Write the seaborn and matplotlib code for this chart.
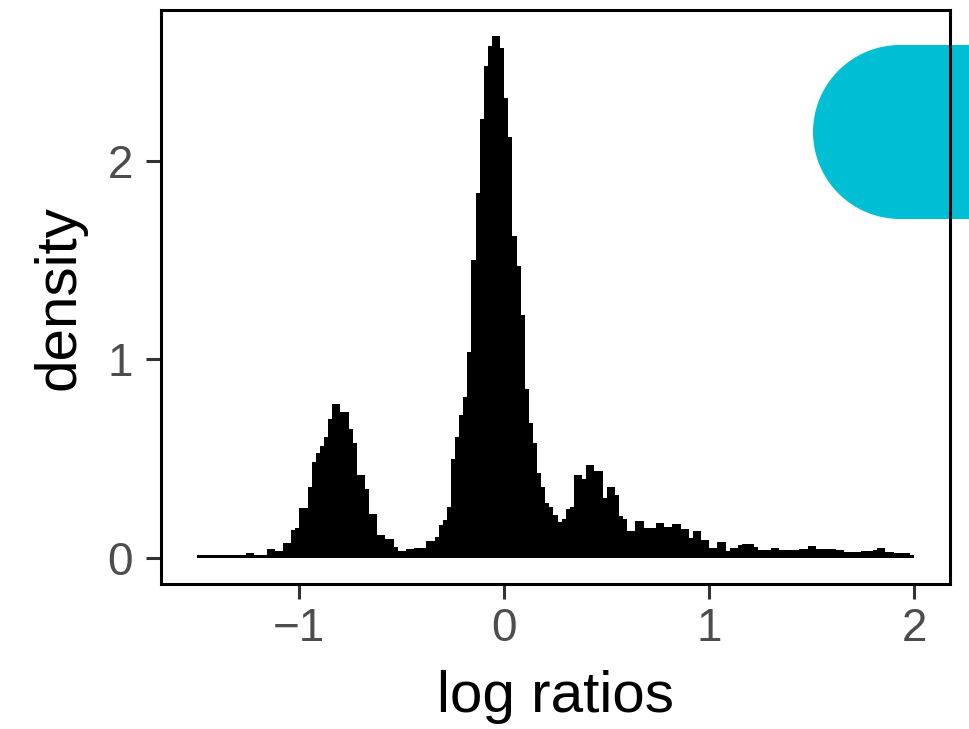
import numpy as np
import pandas as pd
import matplotlib
matplotlib.use("Agg")
import matplotlib.pyplot as plt
from matplotlib.patches import Wedge, Rectangle
import seaborn as sns

# Histogram of log ratios: bins of width 0.02 starting at -1.5
bin_start = -1.5
bin_width = 0.02
density = [
    0.013, 0.013, 0.013, 0.013, 0.013, 0.013, 0.013, 0.013, 0.013, 0.013,
    0.013, 0.013, 0.024, 0.024, 0.013, 0.013, 0.013, 0.045, 0.045, 0.034,
    0.034, 0.074, 0.074, 0.142, 0.152, 0.250, 0.250, 0.355, 0.482, 0.531,
    0.564, 0.610, 0.700, 0.774, 0.774, 0.734, 0.734, 0.648, 0.580, 0.420,
    0.420, 0.347, 0.221, 0.221, 0.117, 0.117, 0.095, 0.095, 0.055, 0.037,
    0.037, 0.046, 0.046, 0.050, 0.050, 0.052, 0.084, 0.084, 0.104, 0.166,
    0.193, 0.255, 0.497, 0.610, 0.720, 0.810, 1.040, 1.500, 1.840, 2.210,
    2.480, 2.580, 2.630, 2.630, 2.570, 2.320, 2.120, 1.620, 1.470, 1.225,
    0.850, 0.680, 0.580, 0.430, 0.355, 0.275, 0.255, 0.216, 0.180, 0.196,
    0.246, 0.255, 0.420, 0.420, 0.400, 0.467, 0.467, 0.440, 0.440, 0.300,
    0.355, 0.355, 0.315, 0.210, 0.196, 0.134, 0.134, 0.186, 0.186, 0.150,
    0.150, 0.150, 0.176, 0.176, 0.158, 0.158, 0.170, 0.170, 0.146, 0.146,
    0.100, 0.137, 0.137, 0.090, 0.090, 0.050, 0.050, 0.080, 0.080, 0.034,
    0.052, 0.052, 0.064, 0.070, 0.070, 0.070, 0.054, 0.040, 0.040, 0.040,
    0.050, 0.050, 0.042, 0.042, 0.042, 0.042, 0.042, 0.046, 0.046, 0.060,
    0.060, 0.044, 0.044, 0.044, 0.044, 0.044, 0.038, 0.038, 0.030, 0.030,
    0.030, 0.030, 0.034, 0.034, 0.034, 0.042, 0.050, 0.050, 0.032, 0.032,
    0.026, 0.026, 0.026, 0.026, 0.014,
]

x_ticks = [-1, 0, 1, 2]
x_tick_labels = ["\u22121", "0", "1", "2"]
y_ticks = [0, 1, 2]
y_tick_labels = ["0", "1", "2"]
x_title = "log ratios"
y_title = "density"

density = np.asarray(density, dtype=float)
edges = bin_start + bin_width * np.arange(len(density) + 1)
centers = (edges[:-1] + edges[1:]) / 2
hist_df = pd.DataFrame({"log_ratio": centers, "density": density})

sns.set_theme(style="white")
plt.rcParams["font.family"] = ["Liberation Sans", "DejaVu Sans"]

fig = plt.figure(figsize=(9.69, 7.29), dpi=100)
fig.patch.set_facecolor("white")
ax = fig.add_axes([161 / 969, 1 - 584 / 729, (950 - 161) / 969, (584 - 10) / 729])
ax.set_facecolor("none")

sns.histplot(data=hist_df, x="log_ratio", weights="density",
             bins=edges.tolist(), stat="count", element="step", fill=True,
             color="black", alpha=1, linewidth=0, ax=ax)

# ggplot-style 5% expansion of the data range
xr = edges[-1] - edges[0]
ax.set_xlim(edges[0] - 0.05 * xr, edges[-1] + 0.05 * xr)
ymax = density.max()
ax.set_ylim(-0.05 * ymax, 1.05 * ymax)

ax.set_xticks(x_ticks)
ax.set_xticklabels(x_tick_labels)
ax.set_yticks(y_ticks)
ax.set_yticklabels(y_tick_labels)
ax.tick_params(axis="both", which="major", length=11, width=2.2,
               color="#333333", labelcolor="#4D4D4D", labelsize=33,
               bottom=True, left=True)
ax.tick_params(axis="x", pad=5.5)
ax.tick_params(axis="y", pad=9)

ax.set_xlabel(x_title, fontsize=42, color="black", labelpad=14)
ax.set_ylabel(y_title, fontsize=42, color="black", labelpad=15)

for side in ["left", "right", "top", "bottom"]:
    ax.spines[side].set_visible(True)
    ax.spines[side].set_color("black")
    ax.spines[side].set_linewidth(2.2)

# Rounded cyan tab at the upper right, tucked under the panel border
tab_color = "#00BFD4"
cap = Wedge((9.00, 5.97), 0.87, 90, 270, transform=fig.dpi_scale_trans,
            facecolor=tab_color, edgecolor="none", zorder=-1)
body = Rectangle((8.99, 5.10), 1.2, 1.74, transform=fig.dpi_scale_trans,
                 facecolor=tab_color, edgecolor="none", zorder=-1)
fig.patches.extend([cap, body])
ax.set_zorder(1)

fig.savefig("out.png", dpi=100)
